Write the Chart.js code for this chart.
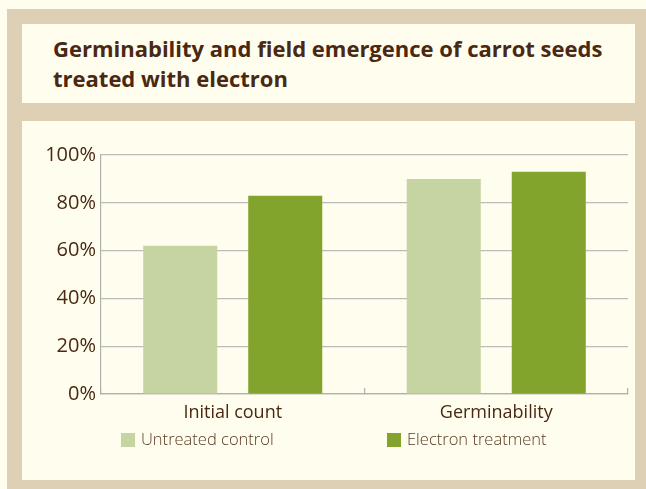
<!DOCTYPE html>
<html>
<head>
<meta charset="utf-8">
<script src="https://cdn.jsdelivr.net/npm/chart.js@4.4.1/dist/chart.umd.min.js"></script>
<style>
  html, body { margin: 0; padding: 0; }
  body { width: 646px; height: 489px; background: #FFFEEE; position: relative; overflow: hidden; }
  #frame { position: absolute; left: 7px; top: 9px; width: 639px; height: 480px; background: #DDD0B4; }
  #titlePanel { position: absolute; left: 22px; top: 24px; width: 613px; height: 79px; background: #FFFEEE; }
  #title { position: absolute; left: 53px; top: 33px; font-family: "Open Sans", "Noto Sans", sans-serif; font-weight: 700; font-size: 22px; line-height: 30px; color: #4A2812; margin: 0; white-space: nowrap; }
  #chartPanel { position: absolute; left: 22px; top: 121px; width: 613px; height: 359px; background: #FFFEEE; }
</style>
</head>
<body>
<div id="frame"></div>
<div id="titlePanel"></div>
<div id="title">Germinability and field emergence of carrot seeds<br>treated with electron</div>
<div id="chartPanel"><canvas id="c"></canvas></div>
<script>
const categories = ["Initial count", "Germinability"];
const seriesNames = ["Untreated control", "Electron treatment"];
const untreatedValues = [62, 90];
const electronValues = [83, 93];
const yTicks = [0, 20, 40, 60, 80, 100];

const colors = ["#C5D4A0", "#82A42D"];
const textColor = "#4A2812";

const customLegend = {
  id: "customLegend",
  afterDraw(chart) {
    const ctx = chart.ctx;
    const a = chart.chartArea;
    const offsets = [20, 286];
    const boxY = a.bottom + 39;
    ctx.save();
    ctx.font = '300 16.5px "Open Sans", "Noto Sans", sans-serif';
    ctx.textBaseline = "middle";
    ctx.textAlign = "left";
    chart.data.datasets.forEach((ds, i) => {
      const x = a.left + offsets[i];
      ctx.fillStyle = ds.backgroundColor;
      ctx.fillRect(x, boxY, 14, 14);
      ctx.fillStyle = "#5A3A24";
      ctx.fillText(ds.label, x + 20, boxY + 7.5);
    });
    ctx.restore();
  }
};

new Chart(document.getElementById("c"), {
  type: "bar",
  data: {
    labels: categories,
    datasets: [
      { label: seriesNames[0], data: untreatedValues, backgroundColor: colors[0] },
      { label: seriesNames[1], data: electronValues, backgroundColor: colors[1] }
    ]
  },
  options: {
    responsive: true,
    maintainAspectRatio: false,
    animation: false,
    devicePixelRatio: 1,
    layout: { padding: { left: 0, right: 7, top: 34, bottom: 0 } },
    datasets: { bar: { categoryPercentage: 0.797, barPercentage: 0.705 } },
    plugins: { legend: { display: false }, tooltip: { enabled: false }, title: { display: false } },
    scales: {
      x: {
        grid: { display: true, drawOnChartArea: false, drawTicks: true, tickLength: -6, color: "#B0B0B0", lineWidth: 1.2, offset: true },
        border: { display: true, color: "#B0B0B0", width: 1.2 },
        ticks: { color: textColor, padding: 14, font: { family: '"Open Sans", "Noto Sans", sans-serif', size: 18 } },
        afterFit(scale) { scale.height = 86; }
      },
      y: {
        min: 0, max: 100,
        afterBuildTicks(scale) { scale.ticks = yTicks.map(v => ({ value: v })); },
        grid: { color: "#BBBBBB", lineWidth: 1.2, drawTicks: false },
        border: { display: true, color: "#B0B0B0", width: 1.2 },
        ticks: { color: textColor, padding: 5, callback: v => v + "%", font: { family: '"Open Sans", "Noto Sans", sans-serif', size: 20 } },
        afterFit(scale) { scale.width = 79; }
      }
    }
  },
  plugins: [customLegend]
});
</script>
</body>
</html>
